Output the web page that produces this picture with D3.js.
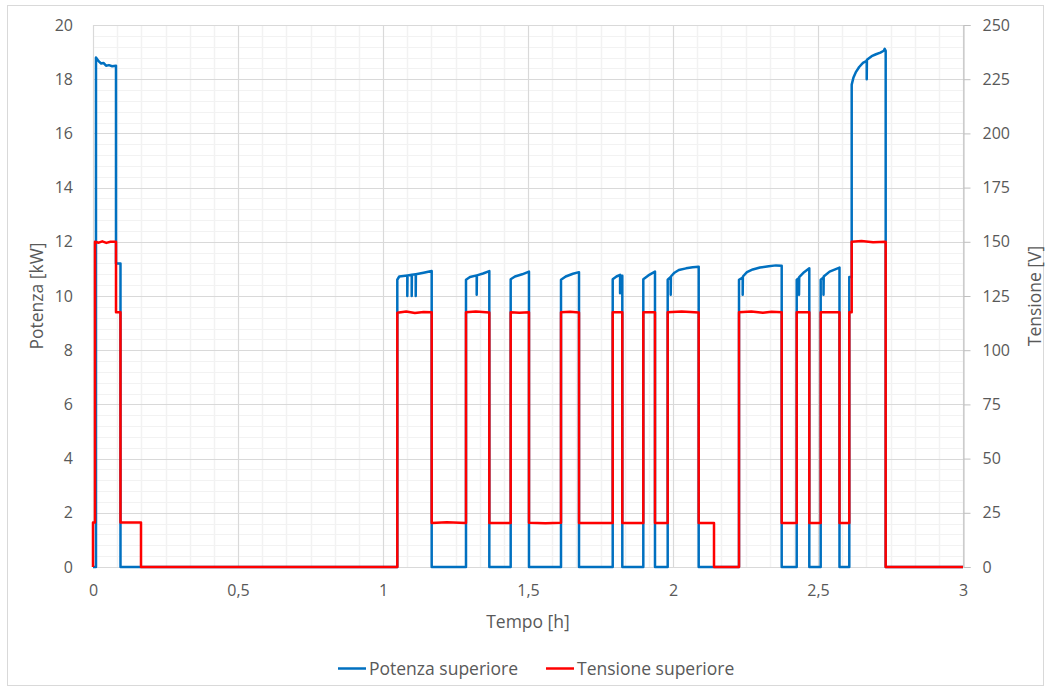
<!DOCTYPE html>
<html>
<head>
<meta charset="utf-8">
<script src="https://cdn.jsdelivr.net/npm/d3@7"></script>
<style>
  html, body { margin: 0; padding: 0; background: #fff; }
  svg text { font-family: "Open Sans", Lato, sans-serif; fill: #595959; }
</style>
</head>
<body>
<svg id="chart" width="1051" height="691"></svg>
<script>
// Potenza superiore [kW] vs tempo [h]
const potenzaTempo = [
  0, 0.0103, 0.0103, 0.015, 0.021, 0.028, 0.036, 0.045, 0.055, 0.066, 0.0793, 0.0793, 0.0948, 0.0948,
  1.0493, 1.0493, 1.056, 1.0838, 1.0838, 1.0845, 1.099, 1.099, 1.0997, 1.1128, 1.1128, 1.1135, 1.14, 1.1679, 1.1679,
  1.2862, 1.2862, 1.300, 1.3231, 1.3231, 1.3238, 1.345, 1.3666, 1.3666,
  1.4403, 1.4403, 1.455, 1.480, 1.5034, 1.5034,
  1.6138, 1.6138, 1.630, 1.655, 1.6759, 1.6759,
  1.7921, 1.7921, 1.805, 1.8175, 1.8175, 1.8182, 1.8252, 1.8252,
  1.8976, 1.8976, 1.915, 1.9379, 1.9379,
  1.9817, 1.9817, 1.9921, 1.9921, 1.9928, 2.005, 2.020, 2.045, 2.068, 2.0886, 2.0886,
  2.2276, 2.2276, 2.2403, 2.2403, 2.2410, 2.255, 2.275, 2.300, 2.330, 2.355, 2.3748, 2.3748,
  2.4266, 2.4266, 2.4345, 2.4345, 2.4352, 2.452, 2.470, 2.470,
  2.5093, 2.5093, 2.519, 2.519, 2.5197, 2.540, 2.5741, 2.5741,
  2.6079, 2.6079, 2.6162, 2.6162, 2.622, 2.630, 2.642, 2.655, 2.668, 2.668, 2.6687, 2.685, 2.700, 2.715, 2.727, 2.730, 2.7334, 2.7334,
  3.0
];
const potenzaValori = [
  0, 0, 18.8, 18.72, 18.65, 18.58, 18.6, 18.5, 18.52, 18.48, 18.5, 11.2, 11.2, 0,
  0, 10.6, 10.72, 10.76, 10.0, 10.76, 10.78, 10.0, 10.78, 10.8, 10.0, 10.8, 10.86, 10.92, 0,
  0, 10.6, 10.7, 10.76, 10.05, 10.76, 10.83, 10.92, 0,
  0, 10.62, 10.72, 10.8, 10.9, 0,
  0, 10.6, 10.72, 10.82, 10.88, 0,
  0, 10.62, 10.72, 10.78, 10.1, 10.75, 10.75, 0,
  0, 10.62, 10.76, 10.9, 0,
  0, 10.6, 10.7, 10.05, 10.72, 10.86, 10.96, 11.02, 11.06, 11.08, 0,
  0, 10.6, 10.68, 10.05, 10.72, 10.88, 10.98, 11.05, 11.1, 11.13, 11.12, 0,
  0, 10.6, 10.66, 10.05, 10.7, 10.88, 11.02, 0,
  0, 10.6, 10.68, 10.05, 10.72, 10.9, 11.05, 0,
  0, 10.7, 10.7, 17.8, 18.05, 18.25, 18.45, 18.6, 18.68, 18.0, 18.72, 18.85, 18.92, 18.98, 19.05, 19.12, 19.05, 0,
  0
];

// Tensione superiore [V] vs tempo [h]
const tensioneTempo = [
  0, 0, 0.0069, 0.0069, 0.020, 0.032, 0.046, 0.060, 0.0793, 0.0793, 0.0948, 0.0948, 0.1655, 0.1655,
  1.0493, 1.0493, 1.08, 1.11, 1.14, 1.1679, 1.1679, 1.22, 1.2862, 1.2862, 1.32, 1.3666, 1.3666,
  1.4403, 1.4403, 1.47, 1.5034, 1.5034, 1.56, 1.6138, 1.6138, 1.645, 1.6759, 1.6759,
  1.7921, 1.7921, 1.8252, 1.8252, 1.8976, 1.8976, 1.9379, 1.9379,
  1.9817, 1.9817, 2.03, 2.0886, 2.0886, 2.1414, 2.1414,
  2.2276, 2.2276, 2.27, 2.31, 2.34, 2.3748, 2.3748, 2.4266, 2.4266, 2.47, 2.47,
  2.5093, 2.5093, 2.5741, 2.5741, 2.6079, 2.6079, 2.6162, 2.6162, 2.65, 2.69, 2.7334, 2.7334,
  3.0
];
const tensioneValori = [
  0, 20.5, 20.5, 150, 149.6, 150.2, 149.5, 150, 150, 117.5, 117.5, 20.5, 20.5, 0,
  0, 117.3, 117.8, 117.2, 117.6, 117.5, 20.3, 20.6, 20.3, 117.5, 117.8, 117.4, 20.3,
  20.3, 117.5, 117.3, 117.5, 20.4, 20.2, 20.4, 117.5, 117.7, 117.4, 20.3,
  20.3, 117.5, 117.5, 20.3, 20.3, 117.5, 117.5, 20.3,
  20.3, 117.5, 117.8, 117.4, 20.3, 20.3, 0,
  0, 117.5, 117.8, 117.3, 117.7, 117.5, 20.3, 20.3, 117.5, 117.5, 20.3,
  20.3, 117.5, 117.5, 20.3, 20.3, 117.5, 117.5, 150, 150.4, 149.8, 150, 0,
  0
];

const xTicks = [0, 0.5, 1, 1.5, 2, 2.5, 3];
const leftTicks = [0, 2, 4, 6, 8, 10, 12, 14, 16, 18, 20];
const rightTicks = [0, 25, 50, 75, 100, 125, 150, 175, 200, 225, 250];

const serieNomi = ["Potenza superiore", "Tensione superiore"];
const serieColori = ["#0070C0", "#FF0000"];

const svg = d3.select("#chart");
const plot = { left: 93, right: 963, top: 25, bottom: 567 };

const x = d3.scaleLinear().domain([0, 3]).range([plot.left, plot.right]);
const yP = d3.scaleLinear().domain([0, 20]).range([plot.bottom, plot.top]);
const yV = d3.scaleLinear().domain([0, 250]).range([plot.bottom, plot.top]);

const fmt = d => String(d).replace(".", ",");
const FONT = "'Open Sans', Lato, sans-serif";

// outer chart border
svg.append("rect")
  .attr("x", 7.5).attr("y", 5.5).attr("width", 1036).attr("height", 680)
  .attr("fill", "#fff").attr("stroke", "#d9d9d9");

// minor gridlines
const grid = svg.append("g");
grid.selectAll("line.hmin")
  .data(d3.range(0, 51).map(i => i * 0.4))
  .join("line")
  .attr("x1", plot.left).attr("x2", plot.right)
  .attr("y1", d => Math.round(yP(d)) + 0.5).attr("y2", d => Math.round(yP(d)) + 0.5)
  .attr("stroke", "#f2f2f2").attr("stroke-width", 1);
grid.selectAll("line.vmin")
  .data(d3.range(0, 37).map(i => i / 12))
  .join("line")
  .attr("y1", plot.top).attr("y2", plot.bottom)
  .attr("x1", d => Math.round(x(d)) + 0.5).attr("x2", d => Math.round(x(d)) + 0.5)
  .attr("stroke", "#f2f2f2").attr("stroke-width", 1.5);

// major gridlines
grid.append("g").selectAll("line")
  .data(leftTicks)
  .join("line")
  .attr("x1", plot.left).attr("x2", plot.right)
  .attr("y1", d => Math.round(yP(d)) + 0.5).attr("y2", d => Math.round(yP(d)) + 0.5)
  .attr("stroke", "#d9d9d9").attr("stroke-width", 1);
grid.append("g").selectAll("line")
  .data(xTicks)
  .join("line")
  .attr("y1", plot.top).attr("y2", plot.bottom)
  .attr("x1", d => Math.round(x(d)) + 0.5).attr("x2", d => Math.round(x(d)) + 0.5)
  .attr("stroke", "#d9d9d9").attr("stroke-width", 1);

// axes
const axisLeft = d3.axisLeft(yP).tickValues(leftTicks).tickSize(0).tickPadding(20).tickFormat(fmt);
const gL = svg.append("g").attr("transform", `translate(${plot.left},0)`).call(axisLeft);
gL.select(".domain").remove();

const axisRight = d3.axisRight(yV).tickValues(rightTicks).tickSize(7).tickPadding(12).tickFormat(fmt);
const gR = svg.append("g").attr("transform", `translate(${plot.right + 0.5},0)`).call(axisRight);
gR.select(".domain").attr("stroke", "#bfbfbf");
gR.selectAll(".tick line").attr("stroke", "#bfbfbf");

const axisBottom = d3.axisBottom(x).tickValues(xTicks).tickSize(0).tickPadding(18).tickFormat(fmt);
const gB = svg.append("g").attr("transform", `translate(0,${plot.bottom})`).call(axisBottom);
gB.select(".domain").remove();

[gL, gR, gB].forEach(g => g.selectAll("text").attr("font-size", 16).attr("fill", "#595959")
  .style("font-family", FONT));

// axis titles
svg.append("text").attr("x", 528).attr("y", 628).attr("text-anchor", "middle")
  .attr("font-size", 17.5).text("Tempo [h]");
svg.append("text").attr("transform", "translate(43,296) rotate(-90)").attr("text-anchor", "middle")
  .attr("font-size", 17.5).text("Potenza [kW]");
svg.append("text").attr("transform", "translate(1041,296) rotate(-90)").attr("text-anchor", "middle")
  .attr("font-size", 17.5).text("Tensione [V]");

// series
const potenza = potenzaTempo.map((t, i) => [t, potenzaValori[i]]);
const tensione = tensioneTempo.map((t, i) => [t, tensioneValori[i]]);

svg.append("path").datum(potenza)
  .attr("fill", "none").attr("stroke", serieColori[0]).attr("stroke-width", 2.5)
  .attr("stroke-linejoin", "round")
  .attr("d", d3.line().x(d => x(d[0])).y(d => yP(d[1])));

svg.append("path").datum(tensione)
  .attr("fill", "none").attr("stroke", serieColori[1]).attr("stroke-width", 2.5)
  .attr("stroke-linejoin", "round")
  .attr("d", d3.line().x(d => x(d[0])).y(d => yV(d[1])));

// legend
const legendX = [338, 546];
const leg = svg.append("g");
serieNomi.forEach((name, i) => {
  leg.append("line").attr("x1", legendX[i]).attr("x2", legendX[i] + 28)
    .attr("y1", 668.5).attr("y2", 668.5)
    .attr("stroke", serieColori[i]).attr("stroke-width", 2.5);
  leg.append("text").attr("x", legendX[i] + 31).attr("y", 674.5)
    .attr("font-size", 17.5).text(name);
});
</script>
</body>
</html>
